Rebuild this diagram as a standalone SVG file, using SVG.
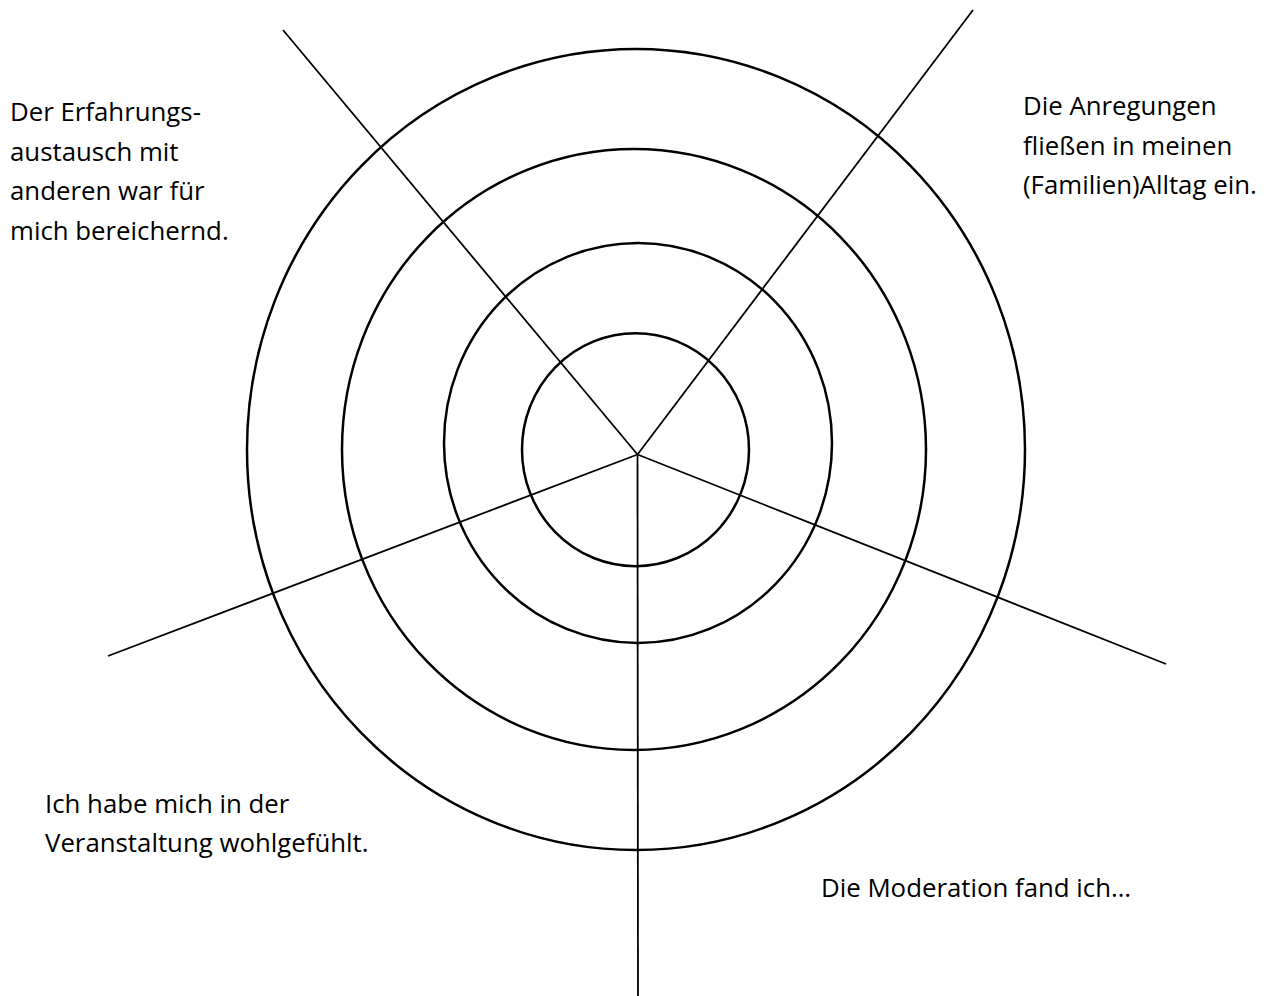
<svg xmlns="http://www.w3.org/2000/svg" width="1271" height="996" viewBox="0 0 1271 996">
<style>
.ring{fill:none;stroke:#000;stroke-width:2.5}
.spoke{stroke:#000;stroke-width:1.8;fill:none}
.lbl{font-family:"Open Sans","Noto Sans",sans-serif;font-size:25.8px;fill:#000}
</style>
<rect width="1271" height="996" fill="#fff"/>
<g id="rings">
<ellipse class="ring" cx="636" cy="449.5" rx="389" ry="400.5"/>
<ellipse class="ring" cx="634" cy="449.5" rx="292" ry="300.5"/>
<ellipse class="ring" cx="638" cy="443" rx="194" ry="200"/>
<ellipse class="ring" cx="635.5" cy="449.7" rx="113.5" ry="116.5"/>
</g>
<g id="connectors">
<line class="spoke" x1="637.5" y1="454.5" x2="283" y2="30"/>
<line class="spoke" x1="637.5" y1="454.5" x2="973" y2="10"/>
<line class="spoke" x1="637.5" y1="454.5" x2="1166" y2="664"/>
<line class="spoke" x1="637.5" y1="454.5" x2="108" y2="656"/>
<line class="spoke" x1="637.5" y1="454.5" x2="638" y2="996"/>
</g>
<g id="label-erfahrung">
<text class="lbl" x="10" y="121">Der Erfahrungs-</text>
<text class="lbl" x="10" y="161">austausch mit</text>
<text class="lbl" x="10" y="200">anderen war für</text>
<text class="lbl" x="10" y="239.5">mich bereichernd.</text>
</g>
<g id="label-anregungen">
<text class="lbl" x="1023" y="115">Die Anregungen</text>
<text class="lbl" x="1023" y="154.5">fließen in meinen</text>
<text class="lbl" x="1023" y="194">(Familien)Alltag ein.</text>
</g>
<g id="label-wohlgefuehlt">
<text class="lbl" x="45" y="812.5">Ich habe mich in der</text>
<text class="lbl" x="45" y="852">Veranstaltung wohlgefühlt.</text>
</g>
<g id="label-moderation">
<text class="lbl" x="821" y="897">Die Moderation fand ich…</text>
</g>
</svg>
